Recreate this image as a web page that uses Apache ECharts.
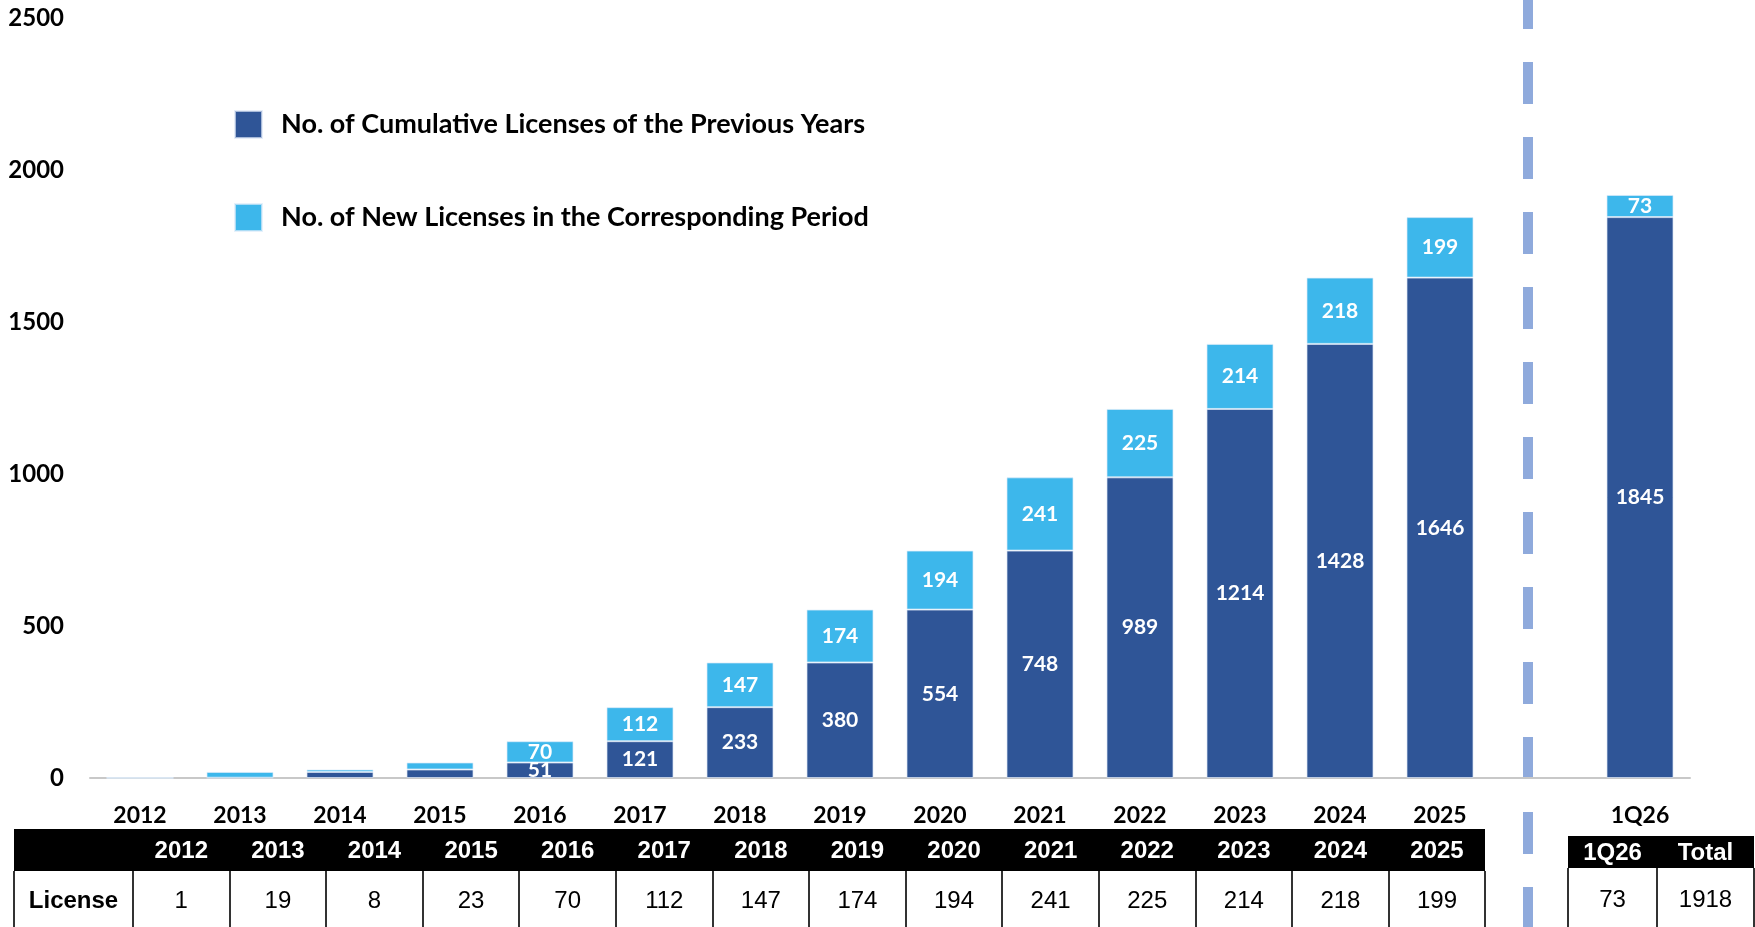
<!DOCTYPE html>
<html><head><meta charset="utf-8">
<script src="https://cdn.jsdelivr.net/npm/echarts@6/dist/echarts.min.js"></script>
<style>
html,body{margin:0;padding:0;width:1755px;height:927px;overflow:hidden;background:#fff;}
#chart{position:absolute;left:0;top:0;width:1755px;height:927px;}
table.tb{position:absolute;border-collapse:collapse;table-layout:fixed;font-family:"Liberation Sans",Arial,sans-serif;font-size:24px;color:#000;}
table.tb th{background:#000;color:#fff;font-weight:bold;text-align:center;padding:0;border:none;}
table.tb td{background:#fff;text-align:center;padding:0;border-left:2px solid #333;border-right:2px solid #333;}
table.tb td.rowhead{font-weight:bold;}
</style></head>
<body>
<div id="chart"></div>
<table class="tb" id="t1"></table>
<table class="tb" id="t2"></table>
<script>
// ---- data ----
const categories = ['2012','2013','2014','2015','2016','2017','2018','2019','2020','2021','2022','2023','2024','2025','','1Q26'];
const cumulativePrevious = [0,1,20,28,51,121,233,380,554,748,989,1214,1428,1646,null,1845];
const newLicenses = [1,19,8,23,70,112,147,174,194,241,225,214,218,199,null,73];
const seriesNames = ['No. of Cumulative Licenses of the Previous Years','No. of New Licenses in the Corresponding Period'];
const yMin = 0, yMax = 2500, yInterval = 500;
const firstLabelledCategory = '2016';
const tableYears = ['2012','2013','2014','2015','2016','2017','2018','2019','2020','2021','2022','2023','2024','2025'];
const tableLicense = [1,19,8,23,70,112,147,174,194,241,225,214,218,199];
const tableRowLabel = 'License';
const sideHeads = ['1Q26','Total'];
const sideValues = [73,1918];

const DARK = '#2F5597', LIGHT = '#3DB7EB', SEP = '#8FAADC';
const labelStart = categories.indexOf(firstLabelledCategory);

function mk(arr){
  return arr.map((v,i)=> v==null ? '-' : {value:v, label:{show: i>=labelStart}});
}

const chart = echarts.init(document.getElementById('chart'), null, {renderer:'canvas'});
const labelStyle = {position:'inside', color:'#fff', fontFamily:'Lato', fontWeight:'bold', fontSize:21};
chart.setOption({
  animation:false,
  grid:{left:90, right:65, top:18, bottom:149, containLabel:false},
  legend:{
    orient:'vertical', left:234, top:110, padding:0,
    itemWidth:27, itemHeight:27, itemGap:64, icon:'rect',
    textStyle:{fontFamily:'Lato', fontWeight:'bold', fontSize:27, color:'#000', padding:[0,0,0,14]},
    data:seriesNames
  },
  xAxis:{
    type:'category', data:categories,
    axisLine:{lineStyle:{color:'#C8C8C8', width:2}},
    axisTick:{show:false},
    axisLabel:{color:'#000', fontFamily:'Lato', fontWeight:'bold', fontSize:23, margin:26, interval:0}
  },
  yAxis:{
    type:'value', min:yMin, max:yMax, interval:yInterval,
    axisLine:{show:false}, axisTick:{show:false}, splitLine:{show:false},
    axisLabel:{color:'#000', fontFamily:'Lato', fontWeight:'bold', fontSize:24, margin:26,
      formatter:(v)=>String(v)}
  },
  series:[
    {name:seriesNames[0], type:'bar', stack:'s', barWidth:67, data:mk(cumulativePrevious),
     itemStyle:{color:DARK, borderColor:'rgba(220,230,245,0.7)', borderWidth:1}, label:labelStyle},
    {name:seriesNames[1], type:'bar', stack:'s', barWidth:67, data:mk(newLicenses),
     itemStyle:{color:LIGHT, borderColor:'rgba(220,235,250,0.7)', borderWidth:1}, label:labelStyle}
  ]
});

// separator dashed line between yearly and quarterly parts
const x25 = chart.convertToPixel({xAxisIndex:0}, '2025');
const xq = chart.convertToPixel({xAxisIndex:0}, '1Q26');
const sepX = (x25 + xq)/2 - 12;
chart.setOption({graphic:[{type:'line', silent:true, z:-1,
  shape:{x1:sepX, y1:-13, x2:sepX, y2:960},
  style:{stroke:SEP, lineWidth:10, lineDash:[42,33]}}]});

// ---- tables ----
function buildTable(el, left, top, colWidths, headH, bodyH, heads, values, rowLabel){
  el.style.left = left+'px'; el.style.top = top+'px';
  let cg = '<colgroup>' + colWidths.map(w=>'<col style="width:'+w+'px">').join('') + '</colgroup>';
  let hr = '<tr style="height:'+headH+'px">' + (rowLabel!=null?'<th></th>':'') + heads.map(h=>'<th>'+h+'</th>').join('') + '</tr>';
  let br = '<tr style="height:'+bodyH+'px">' + (rowLabel!=null?'<td class="rowhead">'+rowLabel+'</td>':'') + values.map(v=>'<td>'+v+'</td>').join('') + '</tr>';
  el.innerHTML = cg + hr + br;
  el.style.width = colWidths.reduce((a,b)=>a+b,0)+'px';
}
const w1 = [119].concat(tableYears.map(()=>96.6));
buildTable(document.getElementById('t1'), 13, 829, w1, 42, 58, tableYears, tableLicense, tableRowLabel);
buildTable(document.getElementById('t2'), 1567, 836, [89,97], 32, 62, sideHeads, sideValues, null);
</script>
</body></html>
